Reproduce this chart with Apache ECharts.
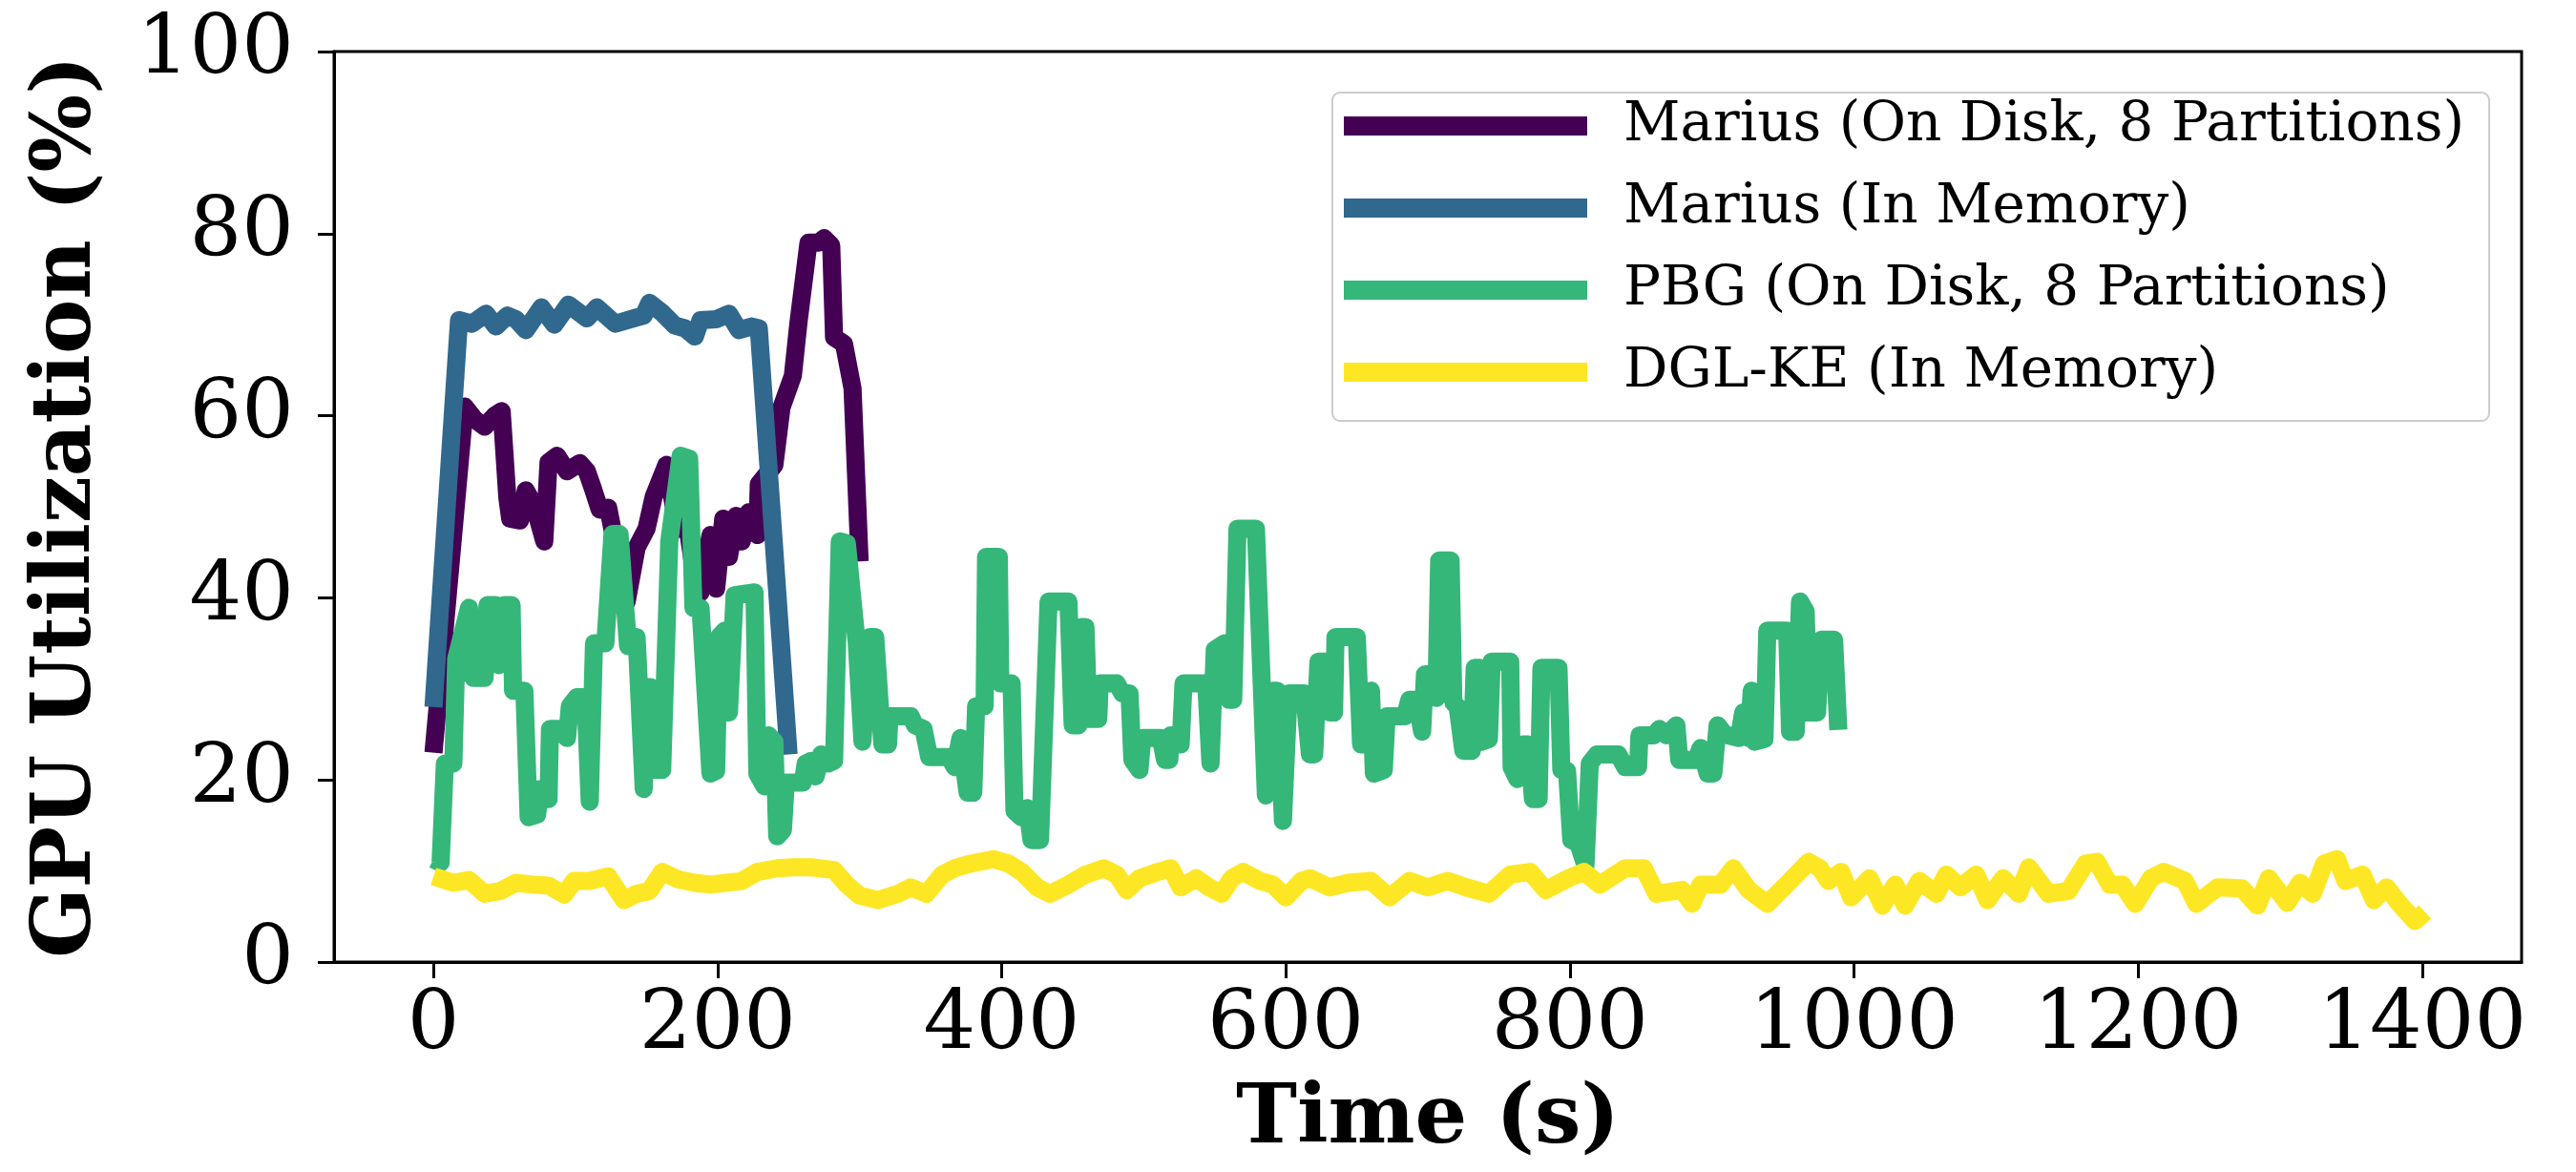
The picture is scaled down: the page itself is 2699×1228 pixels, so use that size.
<!DOCTYPE html>
<html>
<head>
<meta charset="utf-8">
<title>GPU Utilization</title>
<script src="https://cdn.jsdelivr.net/npm/echarts@6/dist/echarts.min.js"></script>
<style>
  html, body { margin: 0; padding: 0; background: #fff; }
  #main { width: 2699px; height: 1228px; }
</style>
</head>
<body>
<div id="main"></div>
<script>
// series names (legend order)
var seriesNames = ['Marius (On Disk, 8 Partitions)', 'Marius (In Memory)', 'PBG (On Disk, 8 Partitions)', 'DGL-KE (In Memory)'];
var seriesColors = ['#440154', '#31688e', '#35b779', '#fde725'];

// x tick labels
var timeTicks = [0, 200, 400, 600, 800, 1000, 1200, 1400];

// Marius (On Disk, 8 Partitions)
var mariusDiskTime = [0, 22, 29, 36, 43, 48, 52, 54, 61, 65, 71, 78, 81, 87, 94, 103, 108, 112, 117, 123, 128, 132, 136, 143, 150, 155, 164, 168, 172, 179, 184, 188, 195, 199, 204, 208, 213, 217, 222, 228, 229, 240, 245, 253, 257, 264, 271, 275, 280, 282, 289, 295, 300];
var mariusDiskUtil = [23, 61, 59.6, 58.8, 60, 60.5, 51, 48.7, 48.5, 51.8, 50.1, 46.2, 54.9, 55.6, 53.9, 54.8, 53.9, 52.1, 49.7, 49.9, 45.9, 43.4, 39.6, 45.5, 47.6, 51.1, 54.6, 51.1, 47.6, 47.6, 42.4, 40.6, 46.9, 41, 48.7, 44.5, 49, 46.2, 49.4, 46.9, 52.5, 54.6, 60.9, 64.4, 70.3, 79, 79, 79.5, 78.7, 68.6, 67.9, 63, 44];

// Marius (In Memory)
var mariusMemTime = [0, 18, 27, 37, 44, 52, 58, 65, 76, 85, 95, 108, 115, 128, 139, 148, 152, 161, 170, 177, 184, 188, 199, 208, 215, 224, 229, 250];
var mariusMemUtil = [28, 70.5, 70.1, 71.2, 69.8, 71, 70.6, 69.4, 71.9, 70, 72.2, 70.7, 71.9, 70.1, 70.6, 71, 72.4, 71.3, 69.9, 69.6, 68.7, 70.5, 70.6, 71.2, 69.4, 69.8, 69.6, 22.8];

// PBG (On Disk, 8 Partitions)
var pbgTime = [0, 5, 8, 14, 16, 25, 28, 36, 38, 44, 46, 50, 55, 56, 64, 67, 73, 75, 81, 82, 88, 94, 96, 101, 107, 110, 113, 121, 126, 131, 137, 143, 148, 151, 153, 157, 161, 166, 174, 180, 183, 188, 195, 199, 201, 205, 208, 212, 226, 228, 233, 236, 240, 242, 246, 248, 260, 262, 266, 269, 273, 278, 282, 286, 291, 298, 302, 307, 311, 316, 320, 321, 336, 339, 345, 349, 363, 367, 371, 376, 380, 382, 388, 389, 398, 399, 407, 409, 414, 418, 421, 427, 433, 447, 450, 454, 456, 459, 461, 468, 469, 481, 485, 490, 492, 497, 499, 512, 515, 518, 519, 526, 528, 535, 544, 547, 550, 557, 560, 563, 566, 579, 586, 591, 594, 598, 602, 613, 617, 620, 623, 628, 631, 634, 635, 650, 653, 660, 662, 669, 671, 684, 687, 692, 696, 698, 704, 706, 708, 716, 718, 721, 725, 731, 733, 737, 738, 743, 745, 758, 759, 763, 767, 771, 774, 778, 780, 792, 794, 798, 801, 806, 811, 814, 819, 834, 839, 848, 849, 859, 863, 868, 875, 877, 889, 892, 897, 901, 904, 909, 919, 922, 926, 928, 930, 937, 939, 953, 955, 959, 962, 966, 968, 974, 977, 986, 989];
var pbgUtil = [11.3, 10.9, 21.8, 21.8, 33.3, 38.9, 31.2, 31.2, 39.2, 39.2, 32.6, 39.2, 39.2, 29.8, 29.8, 15.9, 16.2, 19, 17.9, 25.6, 25.6, 24.6, 28.1, 29.1, 29.1, 17.6, 35, 35, 47, 47, 34.7, 35.7, 19, 30.2, 30.2, 21.1, 21.1, 46.2, 55.6, 55.3, 38.9, 38.9, 20.7, 21, 35.7, 36.4, 27.4, 40.3, 40.6, 20.7, 19.3, 24.9, 24.2, 13.8, 14.5, 19.7, 19.7, 21.8, 22.1, 20.4, 22.8, 21.8, 22.1, 46.2, 46, 35, 24.2, 35.7, 35.7, 23.9, 23.9, 27, 27, 26, 25.6, 22.5, 22.5, 21.4, 24.6, 18.6, 18.6, 28.1, 28.1, 44.5, 44.5, 30.6, 30.6, 16.6, 15.9, 16.9, 13.4, 13.4, 39.6, 39.6, 26, 26, 36.8, 36.8, 26.7, 26.7, 30.6, 30.6, 29.5, 29.5, 22.2, 21.1, 24.6, 24.6, 22.2, 22.2, 24.9, 23.9, 30.6, 30.6, 30.6, 21.8, 34.3, 35, 28.8, 28.8, 47.6, 47.6, 18.3, 29.8, 29.8, 15.5, 29.5, 29.5, 22.8, 22.8, 33, 33, 27.4, 27.4, 35.7, 35.7, 23.9, 29.8, 20.7, 21.1, 27, 27, 28.8, 28.8, 25.3, 31.6, 31.6, 29, 44.1, 44.1, 28.5, 28, 23.2, 23.2, 32.3, 32.3, 24.2, 24.5, 33, 33, 21.4, 20.1, 23.9, 23.9, 17.9, 17.9, 32.3, 32.3, 21.1, 21, 13.4, 13, 10.6, 21.8, 22.8, 22.8, 21.4, 21.4, 24.9, 24.9, 25.6, 24.9, 26, 22.2, 22.2, 23.5, 20.7, 20.7, 26, 25, 24.6, 27.4, 24.6, 29.8, 24.2, 24.5, 36.4, 36.4, 25.3, 25.3, 39.6, 38.5, 27.4, 27.4, 35.4, 35.4, 25.5];

// DGL-KE (In Memory)
var dglTime = [0, 14, 25, 36, 47, 58, 70, 81, 92, 99, 110, 123, 134, 143, 152, 161, 172, 184, 195, 206, 217, 228, 242, 253, 266, 282, 291, 300, 313, 327, 336, 347, 358, 367, 378, 394, 405, 414, 425, 434, 447, 459, 472, 481, 488, 497, 510, 519, 526, 537, 546, 555, 562, 570, 582, 591, 600, 611, 617, 631, 644, 660, 673, 687, 700, 714, 727, 743, 758, 772, 783, 799, 810, 821, 839, 852, 861, 879, 886, 892, 906, 915, 926, 939, 955, 968, 976, 982, 991, 998, 1011, 1020, 1029, 1036, 1046, 1058, 1065, 1075, 1086, 1094, 1105, 1116, 1123, 1137, 1151, 1163, 1171, 1180, 1189, 1198, 1209, 1218, 1233, 1241, 1256, 1273, 1284, 1292, 1305, 1314, 1323, 1331, 1340, 1346, 1358, 1366, 1375, 1384, 1395, 1402];
var dglUtil = [9.4, 8.7, 9.0, 7.5, 7.8, 8.7, 8.5, 8.4, 7.4, 8.9, 8.9, 9.4, 6.8, 7.5, 7.8, 9.9, 9.1, 8.7, 8.5, 8.7, 8.9, 9.9, 10.3, 10.4, 10.4, 10.1, 8.5, 7.3, 6.8, 7.5, 8.2, 7.5, 9.6, 10.3, 10.8, 11.3, 10.8, 9.9, 8.2, 7.5, 8.5, 9.6, 10.3, 9.6, 7.9, 9.2, 9.9, 10.3, 8.2, 9.2, 8.2, 7.5, 9.2, 9.9, 8.9, 8.5, 7.1, 8.9, 9.2, 8.2, 8.7, 8.9, 7.1, 8.9, 8.2, 8.9, 8.2, 7.5, 9.6, 9.9, 7.9, 9.2, 9.9, 8.5, 10.3, 10.3, 7.5, 7.9, 6.4, 8.5, 8.5, 10.3, 7.9, 6.4, 8.9, 11, 10.3, 8.9, 9.9, 7.1, 9.2, 6.2, 8.5, 6.2, 8.9, 7.5, 9.6, 8.2, 9.6, 6.8, 9.2, 7.5, 10.4, 7.5, 7.8, 10.8, 11, 8.5, 8.5, 6.4, 9.2, 9.9, 8.9, 6.4, 8.2, 8.1, 6.2, 9.2, 6.5, 8.7, 7.5, 10.8, 11.3, 8.9, 9.6, 6.8, 8.2, 6.4, 4.5, 5.5];

function zip(xs, ys) {
  return xs.map(function (x, i) { return [x, ys[i]]; });
}

var font = 'DejaVu Serif';

var chart = echarts.init(document.getElementById('main'));

var option = {
  animation: false,
  backgroundColor: '#ffffff',
  grid: {
    left: 350, right: 57, top: 54, bottom: 220,
    show: true, borderColor: '#000', borderWidth: 3
  },
  legend: {
    orient: 'vertical',
    left: 1396, top: 97,
    padding: [6, 26, 22, 12],
    itemWidth: 255, itemHeight: 20, itemGap: 28,
    icon: 'rect',
    backgroundColor: '#ffffff',
    borderColor: '#cccccc', borderWidth: 2, borderRadius: 8,
    textStyle: { fontFamily: font, fontSize: 58, color: '#000', padding: [0, 0, 0, 33] },
    data: seriesNames
  },
  xAxis: {
    type: 'value',
    min: -70, max: 1470,
    name: 'Time (s)',
    nameLocation: 'middle',
    nameGap: 124,
    nameTextStyle: { fontFamily: font, fontSize: 86, fontWeight: 'bold', color: '#000' },
    axisLine: { onZero: false, lineStyle: { color: '#000', width: 3 } },
    axisTick: { show: true, length: 17, lineStyle: { color: '#000', width: 3 }, customValues: timeTicks },
    axisLabel: {
      fontFamily: font, fontSize: 86, color: '#000', margin: 25, customValues: timeTicks,
      formatter: function (v) { return String(v); }
    },
    splitLine: { show: false }
  },
  yAxis: {
    type: 'value',
    min: 0, max: 100, interval: 20,
    name: 'GPU Utilization (%)',
    nameLocation: 'middle',
    nameGap: 235,
    nameTextStyle: { fontFamily: font, fontSize: 86, fontWeight: 'bold', color: '#000' },
    axisLine: { onZero: false, lineStyle: { color: '#000', width: 3 } },
    axisTick: { show: true, length: 17, lineStyle: { color: '#000', width: 3 } },
    axisLabel: { fontFamily: font, fontSize: 86, color: '#000', margin: 42 },
    splitLine: { show: false }
  },
  series: [
    { name: seriesNames[0], data: zip(mariusDiskTime, mariusDiskUtil) },
    { name: seriesNames[1], data: zip(mariusMemTime, mariusMemUtil) },
    { name: seriesNames[2], data: zip(pbgTime, pbgUtil) },
    { name: seriesNames[3], data: zip(dglTime, dglUtil) }
  ].map(function (s, i) {
    return {
      name: s.name,
      type: 'line',
      data: s.data,
      showSymbol: false,
      symbol: 'none',
      color: seriesColors[i],
      lineStyle: { color: seriesColors[i], width: 19, join: 'round', cap: 'butt' }
    };
  })
};

chart.setOption(option);
</script>
</body>
</html>
